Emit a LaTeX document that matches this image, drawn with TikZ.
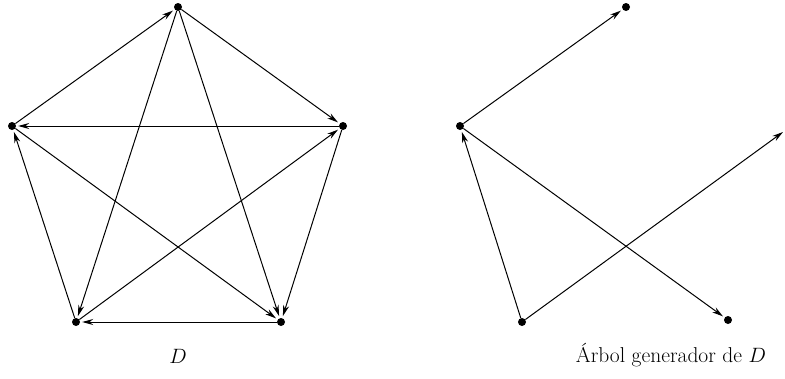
\documentclass[tikz,border=0pt]{standalone}
\usetikzlibrary{arrows.meta}
\begin{document}
\begin{tikzpicture}[x=1pt,y=-1pt,
  vtx/.style={circle,fill=black,inner sep=0pt,minimum size=8pt},
  arc/.style={line width=1pt,-{Stealth[length=11pt,width=6pt]},shorten >=2pt},
  lbl/.style={font=\fontsize{21.5}{25}\selectfont}]
\useasboundingbox (0,0) rectangle (785,378);
% digraph D
\node[vtx] (T) at (178,7) {};
\node[vtx] (L) at (12,126) {};
\node[vtx] (R) at (343,126) {};
\node[vtx] (A) at (76,322) {};
\node[vtx] (B) at (281,322) {};
\draw[arc] (L) -- (T);
\draw[arc] (T) -- (R);
\draw[arc] (R) -- (L);
\draw[arc] (A) -- (L);
\draw[arc] (A) -- (R);
\draw[arc] (T) -- (A);
\draw[arc] (T) -- (B);
\draw[arc] (L) -- (B);
\draw[arc] (R) -- (B);
\draw[arc] (B) -- (A);
\node[lbl] (dl) at (178,356) {$D$};
% spanning tree
\node[vtx] (T2) at (626,7) {};
\node[vtx] (L2) at (460,126) {};
\node[vtx] (A2) at (522,322) {};
\node[vtx] (B2) at (728,320) {};
\coordinate (R2) at (783,132);
\draw[arc] (L2) -- (T2);
\draw[arc] (A2) -- (L2);
\draw[arc] (L2) -- (B2);
\draw[arc,shorten >=0pt] (A2) -- (R2);
\node[lbl] (tl) at (671,355) {Árbol generador de $D$};
\end{tikzpicture}
\end{document}
